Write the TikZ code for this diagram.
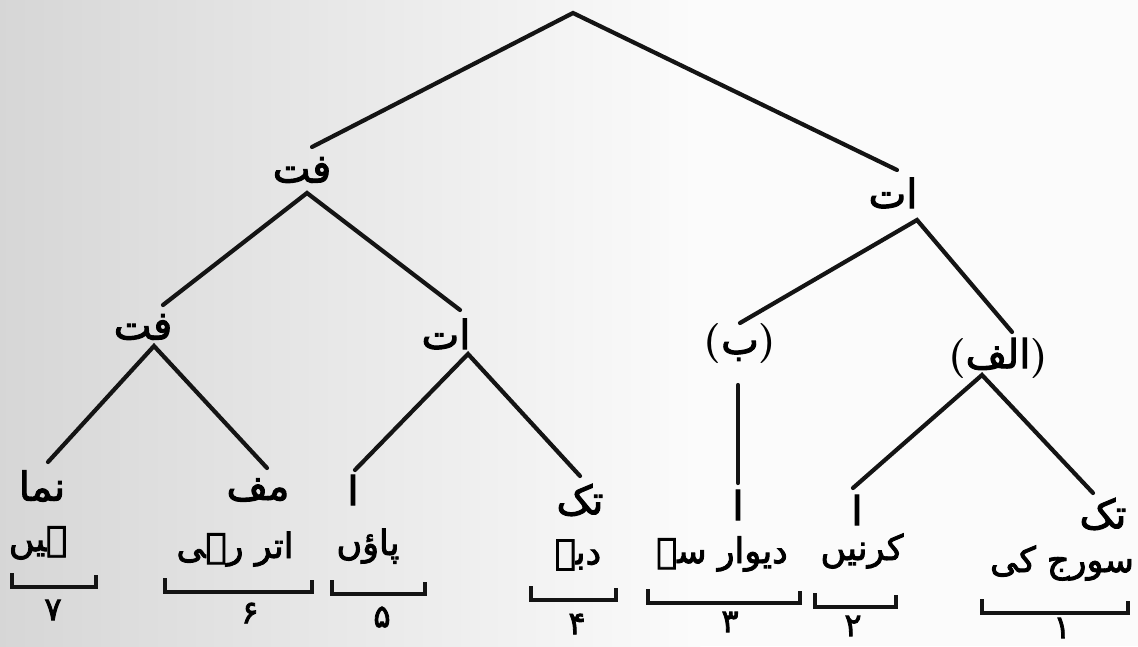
\documentclass[tikz,border=0pt]{standalone}
\usepackage{fontspec}
\newfontfamily\arabicfont[Script=Arabic,BoldFont={DejaVu Sans},BoldFeatures={FakeBold=2.5}]{DejaVu Sans}
\TeXXeTstate=1
\newcommand{\ur}[1]{{\arabicfont\bfseries\beginR #1\endR}}
\newcommand{\paren}[1]{{\bfseries(}\ur{#1}{\bfseries)}}
\begin{document}
\begin{tikzpicture}[x=1pt,y=-1pt,
  edge/.style={line width=4.2pt,line cap=round,black!92},
  brk/.style={line width=4.8pt,black!92},
  tag/.style={inner sep=0pt,font=\fontsize{40}{42}\selectfont},
  word/.style={inner sep=0pt,font=\fontsize{35}{38}\selectfont},
  num/.style={inner sep=0pt,font=\fontsize{32}{34}\selectfont}]
\useasboundingbox (0,0) rectangle (1138,646);
\fill[gray!3] (0,0) rectangle (1138,646);
\shade[left color=gray!32,right color=gray!3] (0,0) rectangle (700,646);

% internal labels
\node[tag] (ft1) at (302,170) {\ur{فت}};
\node[tag] (at1) at (893,193) {\ur{ات}};
\node[tag] (ft2) at (143,327) {\ur{فت}};
\node[tag] (at2) at (446,334) {\ur{ات}};
\node[tag] (bb) at (740,344) {\paren{ب}};
\node[tag] (alf) at (998,358) {\paren{الف}};

% leaf tags
\node[tag] (t7) at (42,486) {\ur{نما}};
\node[tag] (t6) at (258,490) {\ur{مف}};
\node[tag] (t5) at (353,490) {\ur{ا}};
\node[tag] (t4) at (580,500) {\ur{تک}};
\node[tag] (t3) at (738,505) {\ur{ا}};
\node[tag] (t2) at (857,510) {\ur{ا}};
\node[tag] (t1) at (1103,514) {\ur{تک}};

% words
\node[word] (w7) at (38,543) {\ur{ہیں}};
\node[word] (w6) at (235,549) {\ur{اتر رہی}};
\node[word] (w5) at (368,546) {\ur{پاؤں}};
\node[word] (w4) at (578,555) {\ur{دبے}};
\node[word] (w3) at (722,554) {\ur{دیوار سے}};
\node[word] (w2) at (862,551) {\ur{کرنیں}};
\node[word] (w1) at (1062,563) {\ur{سورج کی}};

% numbers
\node[num] (n7) at (53,610) {\ur{۷}};
\node[num] (n6) at (250,613) {\ur{۶}};
\node[num] (n5) at (382,617) {\ur{۵}};
\node[num] (n4) at (577,624) {\ur{۴}};
\node[num] (n3) at (730,622) {\ur{۳}};
\node[num] (n2) at (853,626) {\ur{۲}};
\node[num] (n1) at (1062,628) {\ur{۱}};

% tree coordinates
\coordinate (root) at (573,13);
\coordinate (ft1in) at (312,147);
\coordinate (at1in) at (897,170);
\coordinate (ft1a) at (307,193);
\coordinate (at1a) at (917,220);
\coordinate (ft2in) at (163,305);
\coordinate (at2in) at (460,310);
\coordinate (bbin) at (740,323);
\coordinate (alfin) at (1012,332);
\coordinate (ft2a) at (154,346);
\coordinate (at2a) at (468,354);
\coordinate (bba) at (738,385);
\coordinate (alfa) at (982,375);
\coordinate (t7in) at (48,462);
\coordinate (t6in) at (267,468);
\coordinate (t5in) at (355,470);
\coordinate (t4in) at (580,476);
\coordinate (t3in) at (738,483);
\coordinate (t2in) at (853,488);
\coordinate (t1in) at (1093,493);

\draw[edge] (ft1in) -- (root) -- (at1in);
\draw[edge] (ft2in) -- (ft1a) -- (at2in);
\draw[edge] (bbin) -- (at1a) -- (alfin);
\draw[edge] (t7in) -- (ft2a) -- (t6in);
\draw[edge] (t5in) -- (at2a) -- (t4in);
\draw[edge] (bba) -- (t3in);
\draw[edge] (t2in) -- (alfa) -- (t1in);

% brackets
\coordinate (b7l) at (12,587);   \coordinate (b7r) at (96,587);
\coordinate (b6l) at (165,592);  \coordinate (b6r) at (312,592);
\coordinate (b5l) at (332,594);  \coordinate (b5r) at (425,594);
\coordinate (b4l) at (531,600);  \coordinate (b4r) at (616,600);
\coordinate (b3l) at (648,603);  \coordinate (b3r) at (800,603);
\coordinate (b2l) at (815,607);  \coordinate (b2r) at (896,607);
\coordinate (b1l) at (982,613);  \coordinate (b1r) at (1128,613);
\foreach \i in {1,...,7}{
  \draw[brk] ([yshift=14pt]b\i l) -- (b\i l) -- (b\i r) -- ([yshift=12pt]b\i r);
}
\end{tikzpicture}
\end{document}
